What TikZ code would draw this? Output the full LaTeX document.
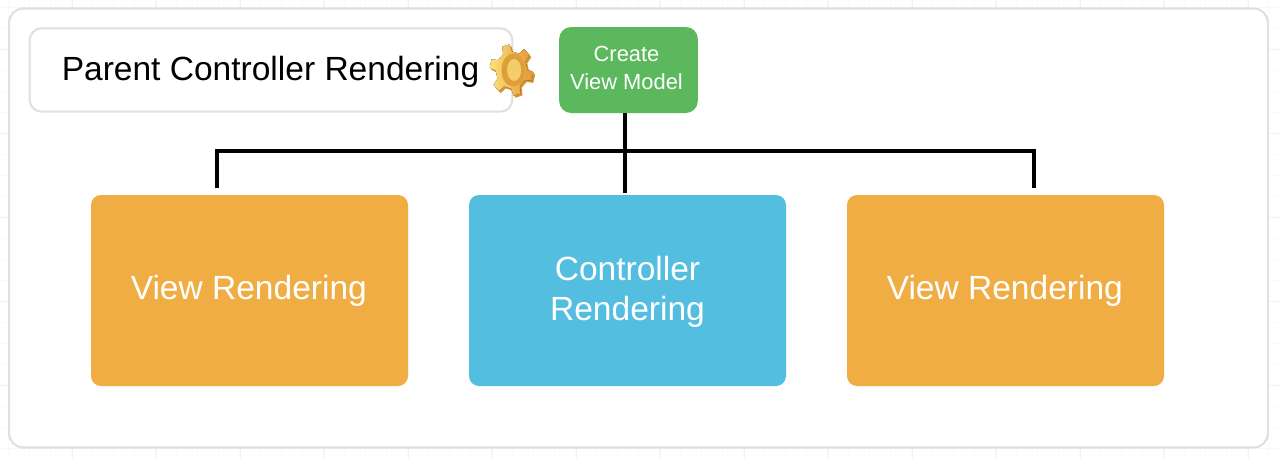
\documentclass[tikz,border=0pt]{standalone}
\usepackage{fontspec}
\setmainfont{Liberation Sans}
\definecolor{framegray}{HTML}{E0E0E0}
\definecolor{gridminor}{HTML}{F9F9F9}
\definecolor{gridmajor}{HTML}{F2F2F2}
\definecolor{orangebox}{HTML}{F0AD44}
\definecolor{bluebox}{HTML}{54BEE0}
\definecolor{greenbox}{HTML}{5CB85C}
\definecolor{geardark}{HTML}{DE8E2E}
\definecolor{gearlight}{HTML}{FCE07A}
\definecolor{gearside}{HTML}{D9942F}
\newcommand{\shifted}[2]{\raisebox{#1}[\height][\depth]{\begin{tabular}{@{}c@{}}#2\end{tabular}}}
\tikzset{
  px/.style={x=0.75pt,y=-0.75pt},
  outline/.style={draw=framegray,line width=1.6pt,rounded corners=10.5pt,fill=white},
  bigbox/.style={rounded corners=7.5pt,text=white,minimum width=237.75pt,minimum height=143.25pt,align=center,font=\fontsize{25.15}{30}\selectfont,inner sep=0pt},
  smallbox/.style={fill=greenbox,rounded corners=9pt,text=white,minimum width=104pt,minimum height=64.5pt,align=center,font=\fontsize{16.4}{21}\selectfont,inner sep=0pt},
  bus/.style={line width=3pt,draw=black},
}
\begin{document}
\begin{tikzpicture}[px]
\useasboundingbox (0,0) rectangle (1281,458);
\fill[white] (0,0) rectangle (1281,458);
\foreach \x in {8,29,50,71,92,113,134}{\foreach \k in {0,...,14}{\draw[gridminor,line width=0.6pt] ({\x+84*\k},0) -- ({\x+84*\k},458);}}
\foreach \y in {7,28,70,91,112,154,175,196,238,259,280,322,343,364,406,427,448}{\draw[gridminor,line width=0.6pt] (0,\y) -- (1281,\y);}
\foreach \k in {0,...,14}{\draw[gridmajor,line width=0.6pt] ({72+84*\k},0) -- ({72+84*\k},458);}
\foreach \y in {49,133,217,301,385}{\draw[gridmajor,line width=0.6pt] (0,\y) -- (1281,\y);}
\node[outline,minimum width=944pt,minimum height=329.25pt,inner sep=0pt] (frame) at (638.5,228) {};
\node[outline,rounded corners=9pt,minimum width=362pt,minimum height=62.5pt,inner sep=0pt] (title) at (271,70) {};
\node[anchor=west,inner sep=0pt,font=\fontsize{25.15}{30}\selectfont,text=black] (titletext) at (61.5,72) {Parent Controller Rendering};
\node[smallbox] (cvm) at (628.5,70) {\shifted{0pt}{\hspace*{-3pt}Create\\\hspace*{-3pt}View Model}};
\node[bigbox,fill=orangebox] (v1) at (249.5,290.5) {\shifted{-0.75pt}{\hspace*{-1pt}View Rendering}};
\node[bigbox,fill=bluebox] (cr) at (627.5,290.5) {\shifted{-1.4pt}{Controller\\Rendering}};
\node[bigbox,fill=orangebox] (v2) at (1005.5,290.5) {\shifted{-0.75pt}{\hspace*{-1pt}View Rendering}};
% gear
\begin{scope}[shift={(511.5,70)},xscale=0.88,yscale=1.03]
\node[inner sep=0pt,minimum size=0pt] (gear) at (0,0) {};
\fill[gearside,shift={(2,2)}] (15-17:18) \foreach \a in {15,75,...,315} { -- (\a-17:18) -- (\a-10:25) -- (\a+10:25) -- (\a+17:18) } -- cycle;
\fill[left color=gearlight,right color=geardark!90!gearlight] (15-17:18) \foreach \a in {15,75,...,315} { -- (\a-17:18) -- (\a-10:25) -- (\a+10:25) -- (\a+17:18) } -- cycle;
\fill[gearside!85!gearlight] (2,0) ellipse (10pt and 12pt);
\fill[gearlight!75!gearside] (3,0) ellipse (6pt and 8pt);
\end{scope}
% connectors
\coordinate (busl) at (217,151);
\coordinate (busr) at (1034,151);
\coordinate (dropl) at (217,188);
\coordinate (dropr) at (1034,188);
\coordinate (busm) at (625.3,151);
\coordinate (dropm) at (625.3,193);
\draw[bus] (dropl) -- (busl) -- (busr) -- (dropr);
\draw[bus] (cvm.south -| busm) -- (dropm);
\end{tikzpicture}
\end{document}
